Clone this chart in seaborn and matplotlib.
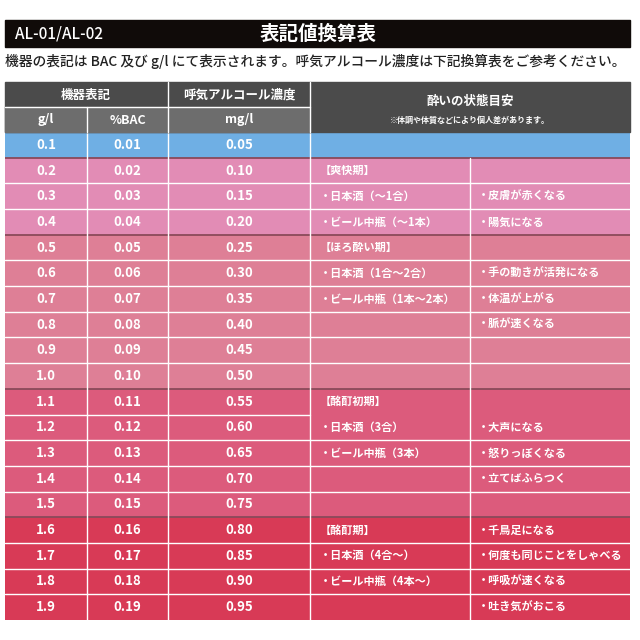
import matplotlib
matplotlib.use("Agg")
import matplotlib.pyplot as plt
from matplotlib.colors import ListedColormap
from matplotlib.patches import Rectangle
import numpy as np
import seaborn as sns

sns.set_theme(style="white")
plt.rcParams["font.family"] = ["Noto Sans CJK JP", "DejaVu Sans"]

# table data
gl = ["0.1", "0.2", "0.3", "0.4", "0.5", "0.6", "0.7", "0.8", "0.9", "1.0",
      "1.1", "1.2", "1.3", "1.4", "1.5", "1.6", "1.7", "1.8", "1.9"]
bac = ["0.01", "0.02", "0.03", "0.04", "0.05", "0.06", "0.07", "0.08", "0.09", "0.10",
       "0.11", "0.12", "0.13", "0.14", "0.15", "0.16", "0.17", "0.18", "0.19"]
mgl = ["0.05", "0.10", "0.15", "0.20", "0.25", "0.30", "0.35", "0.40", "0.45", "0.50",
       "0.55", "0.60", "0.65", "0.70", "0.75", "0.80", "0.85", "0.90", "0.95"]
stage = [0, 1, 1, 1, 2, 2, 2, 2, 2, 2, 3, 3, 3, 3, 3, 4, 4, 4, 4]
drink = ["", "【爽快期】", "・日本酒（～1合）", "・ビール中瓶（～1本）",
         "【ほろ酔い期】", "・日本酒（1合～2合）", "・ビール中瓶（1本～2本）", "", "", "",
         "【酩酊初期】", "・日本酒（3合）", "・ビール中瓶（3本）", "", "",
         "【酩酊期】", "・日本酒（4合～）", "・ビール中瓶（4本～）", ""]
state = ["", "", "・皮膚が赤くなる", "・陽気になる",
         "", "・手の動きが活発になる", "・体温が上がる", "・脈が速くなる", "", "",
         "", "・大声になる", "・怒りっぽくなる", "・立てばふらつく", "",
         "・千鳥足になる", "・何度も同じことをしゃべる", "・呼吸が速くなる", "・吐き気がおこる"]
stage_colors = ["#6FAFE4", "#E28CB5", "#DE7F96", "#DC5B7C", "#D83A56"]

W = 640
fig = plt.figure(figsize=(6.4, 6.4), dpi=100)
fig.patch.set_facecolor("white")

def fx(px): return px / W
def fy(py): return 1 - py / W

# title bar
fig.add_artist(Rectangle((fx(5), fy(47)), fx(625), 27 / W, color="#100b09", transform=fig.transFigure))
fig.text(fx(15), fy(34), "AL-01/AL-02", color="white", fontsize=11, fontweight="medium", va="center")
fig.text(fx(318), fy(34), "表記値換算表", color="white", fontsize=14, fontweight="bold", va="center", ha="center")
fig.text(fx(5), fy(61), "機器の表記は BAC 及び g/l にて表示されます。呼気アルコール濃度は下記換算表をご参考ください。",
         color="#222222", fontsize=9.9, fontweight="medium", va="center")

# header cells
edges_px = [5, 87, 168, 310, 470, 630]
hdr = "#4b4b4b"
sub = "#6d6d6d"
fig.add_artist(Rectangle((fx(5), fy(132)), fx(625), 50 / W, color=hdr, transform=fig.transFigure))
fig.add_artist(Rectangle((fx(5), fy(132)), fx(305), 25 / W, color=sub, transform=fig.transFigure))
for x in [168, 310]:
    fig.add_artist(plt.Line2D([fx(x), fx(x)], [fy(132), fy(82)], color="white", lw=1, transform=fig.transFigure))
fig.add_artist(plt.Line2D([fx(87), fx(87)], [fy(132), fy(107)], color="white", lw=1, transform=fig.transFigure))
fig.add_artist(plt.Line2D([fx(5), fx(310)], [fy(107), fy(107)], color="white", lw=1, transform=fig.transFigure))
hk = dict(color="white", ha="center", va="center", fontsize=9, fontweight="bold")
fig.text(fx(86), fy(95), "機器表記", **hk)
fig.text(fx(239), fy(95), "呼気アルコール濃度", **hk)
fig.text(fx(46), fy(120), "g/l", **hk)
fig.text(fx(128), fy(120), "%BAC", **hk)
fig.text(fx(239), fy(120), "mg/l", **hk)
fig.text(fx(470), fy(101), "酔いの状態目安", **hk)
fig.text(fx(470), fy(120), "※体調や体質などにより個人差があります。", color="white", ha="center", va="center",
         fontsize=5.8, fontweight="bold")

# body as a heatmap of stage index
ax = fig.add_axes([fx(5), fy(620), fx(625), 488 / W])
mat = np.array(stage).reshape(-1, 1)
sns.heatmap(mat, cmap=ListedColormap(stage_colors), vmin=-0.5, vmax=4.5, cbar=False,
            xticklabels=False, yticklabels=False, ax=ax)
n = len(gl)
fr = [(e - 5) / 625 for e in edges_px]

# grid lines
for i in range(1, n):
    dark = stage[i] != stage[i - 1]
    col = "#8a4a5a" if dark else "white"
    if i == 11:
        ax.plot([0, fr[3]], [i, i], color=col, lw=1)
    else:
        ax.plot([0, 1], [i, i], color=col, lw=1.3 if dark else 1)
for j in range(1, 5):
    y0 = 0 if j < 4 else 1
    ax.plot([fr[j], fr[j]], [y0, n], color="white", lw=1)

tk = dict(color="white", va="center", fontsize=9.5, fontweight="bold")
sk = dict(color="white", va="center", fontsize=8, fontweight="bold", ha="left")
for i in range(n):
    y = i + 0.5
    ax.text((fr[0] + fr[1]) / 2, y, gl[i], ha="center", **tk)
    ax.text((fr[1] + fr[2]) / 2, y, bac[i], ha="center", **tk)
    ax.text((fr[2] + fr[3]) / 2, y, mgl[i], ha="center", **tk)
    ax.text(fr[3] + 10 / 625, y, drink[i], **sk)
    ax.text(fr[4] + 8 / 625, y, state[i], **sk)
ax.set_xlim(0, 1)
ax.set_ylim(n, 0)
ax.axis("off")

fig.savefig("out.png", dpi=100, facecolor="white")
